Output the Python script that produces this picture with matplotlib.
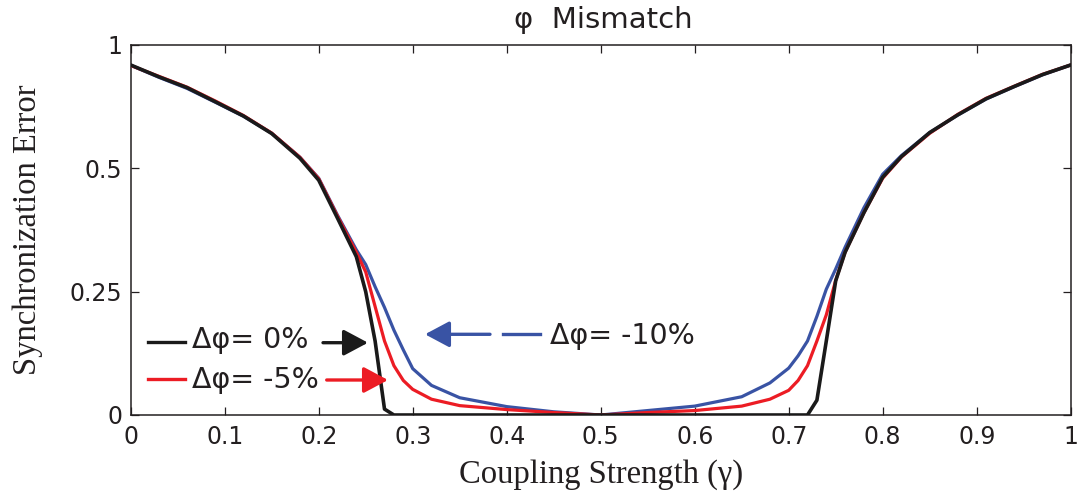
import numpy as np
import matplotlib
matplotlib.use("Agg")
import matplotlib.pyplot as plt
from matplotlib.patches import FancyArrowPatch, ArrowStyle
from matplotlib.lines import Line2D

# ---------------- data ----------------
gamma = [0, 0.03, 0.06, 0.09, 0.12, 0.15, 0.18, 0.20, 0.22, 0.24, 0.25, 0.26, 0.27,
         0.28, 0.29, 0.30, 0.32, 0.35, 0.40, 0.45, 0.50, 0.55, 0.60, 0.65, 0.68,
         0.70, 0.71, 0.72, 0.73, 0.74, 0.75, 0.76, 0.78, 0.80, 0.82, 0.85, 0.88,
         0.91, 0.94, 0.97, 1.00]

err_0 = [0.919, 0.871, 0.827, 0.770, 0.712, 0.641, 0.541, 0.476, 0.399, 0.321, 0.250,
         0.150, 0.012,
         0, 0, 0, 0, 0, 0, 0, 0, 0, 0, 0, 0, 0, 0, 0,
         0.030, 0.150, 0.272, 0.330, 0.410, 0.482, 0.548, 0.645, 0.717, 0.782, 0.832,
         0.880, 0.919]

err_5 = [0.917, 0.873, 0.829, 0.773, 0.714, 0.643, 0.545, 0.479, 0.403, 0.330, 0.290,
         0.220, 0.150, 0.100, 0.070, 0.052, 0.032, 0.019, 0.011, 0.005, 0.0, 0.005,
         0.009, 0.018, 0.032, 0.050, 0.070, 0.100, 0.150, 0.203, 0.273, 0.330, 0.410,
         0.480, 0.546, 0.642, 0.719, 0.784, 0.833, 0.881, 0.919]

err_10 = [0.918, 0.869, 0.824, 0.768, 0.711, 0.642, 0.545, 0.480, 0.405, 0.335, 0.305,
          0.260, 0.218, 0.172, 0.132, 0.094, 0.060, 0.035, 0.017, 0.0065, 0.0, 0.009,
          0.018, 0.037, 0.065, 0.095, 0.120, 0.150, 0.200, 0.255, 0.296, 0.340, 0.420,
          0.488, 0.552, 0.645, 0.716, 0.781, 0.831, 0.879, 0.919]

y_ticks = [0, 0.25, 0.5, 1]
y_tick_labels = ["0", "0.25", "0.5", "1"]
x_ticks = [0, 0.1, 0.2, 0.3, 0.4, 0.5, 0.6, 0.7, 0.8, 0.9, 1]
x_tick_labels = ["0", "0.1", "0.2", "0.3", "0.4", "0.5", "0.6", "0.7", "0.8", "0.9", "1"]

labels = ["\u0394\u03c6= 0%", "\u0394\u03c6= -5%", "\u0394\u03c6= -10%"]

# ---------------- style ----------------
BLACK = "#1a1a1a"
RED = "#ec1c24"
BLUE = "#3953a4"
AXC = "#231f20"

SANS = ["DejaVu Sans"]
SERIF = ["Liberation Serif", "DejaVu Serif"]


def fwd(v):
    v = np.asarray(v, dtype=float)
    return np.where(v <= 0.5, v * 4.0 / 3.0, 2.0 / 3.0 + (v - 0.5) * 2.0 / 3.0)


def inv(d):
    d = np.asarray(d, dtype=float)
    return np.where(d <= 2.0 / 3.0, d * 0.75, 0.5 + (d - 2.0 / 3.0) * 1.5)


fig = plt.figure(figsize=(10.84, 4.95), dpi=100)
ax = fig.add_axes([130.7 / 1084, 1 - 415 / 495, 940 / 1084, 370 / 495])
ax.set_yscale("function", functions=(fwd, inv))

ax.plot(gamma, err_10, color=BLUE, lw=2.3, zorder=3, solid_joinstyle="round")
ax.plot(gamma, err_5, color=RED, lw=2.3, zorder=4, solid_joinstyle="round")
ax.plot(gamma, err_0, color=BLACK, lw=2.6, zorder=5, solid_joinstyle="round")

ax.set_xlim(0, 1)
ax.set_ylim(0, 1)
ax.set_xticks(x_ticks)
ax.set_xticklabels(x_tick_labels)
ax.set_yticks(y_ticks)
ax.set_yticklabels(y_tick_labels)
ax.minorticks_off()

for s in ax.spines.values():
    s.set_linewidth(1.1)
    s.set_color(AXC)

ax.tick_params(direction="in", length=5.8, width=0.9, color=AXC, top=True, right=True,
               labelcolor=AXC, labelsize=17)
ax.tick_params(axis="x", pad=7)
ax.tick_params(axis="y", pad=6)
for lab in ax.get_xticklabels() + ax.get_yticklabels():
    lab.set_family(SANS)

ax.set_xlabel("Coupling Strength (\u03b3)", family=SERIF, fontsize=23.5, color=AXC)
ax.xaxis.label.set_va("baseline")
ax.xaxis.set_label_coords(0.5, (415 - 483) / 370)
ax.set_ylabel("Synchronization Error", family=SERIF, fontsize=23.5, color=AXC)
ax.yaxis.label.set_va("center")
ax.yaxis.set_label_coords((28 - 130.7) / 940, 0.5)

fig.text(603 / 1084, 1 - 28 / 495, "\u03c6  Mismatch", family=SANS, fontsize=21,
         color=AXC, ha="center", va="baseline")


def axfrac(px, py):
    return ((px - 130.7) / 940, (415 - py) / 370)


def arrow(p0, p1, color):
    a = FancyArrowPatch(axfrac(*p0), axfrac(*p1), transform=ax.transAxes,
                        arrowstyle=ArrowStyle("-|>", head_length=15, head_width=8),
                        mutation_scale=1, color=color, lw=2.4, shrinkA=0, shrinkB=0,
                        zorder=6)
    ax.add_patch(a)


def seg(px0, px1, py, color):
    (x0, y0), (x1, _) = axfrac(px0, py), axfrac(px1, py)
    ax.add_line(Line2D([x0, x1], [y0, y0], transform=ax.transAxes, color=color, lw=2.4,
                       zorder=6))


FS = 20.5

# black annotation
seg(148, 185, 341.7, BLACK)
tx, ty = axfrac(191.7, 348)
ax.text(tx, ty, labels[0], transform=ax.transAxes, family=SANS, fontsize=FS,
        color=AXC, va="baseline", ha="left")
arrow((323, 342.7), (368, 342.7), BLACK)

# red annotation
seg(148, 185, 379, RED)
tx, ty = axfrac(191.7, 388)
ax.text(tx, ty, labels[1], transform=ax.transAxes, family=SANS, fontsize=FS,
        color=AXC, va="baseline", ha="left")
arrow((326.7, 380), (388, 380), RED)

# blue annotation
arrow((490, 334.3), (425, 334.3), BLUE)
seg(503, 540, 334.3, BLUE)
tx, ty = axfrac(550, 344)
ax.text(tx, ty, labels[2], transform=ax.transAxes, family=SANS, fontsize=FS,
        color=AXC, va="baseline", ha="left")

fig.savefig("out.png", dpi=100)
